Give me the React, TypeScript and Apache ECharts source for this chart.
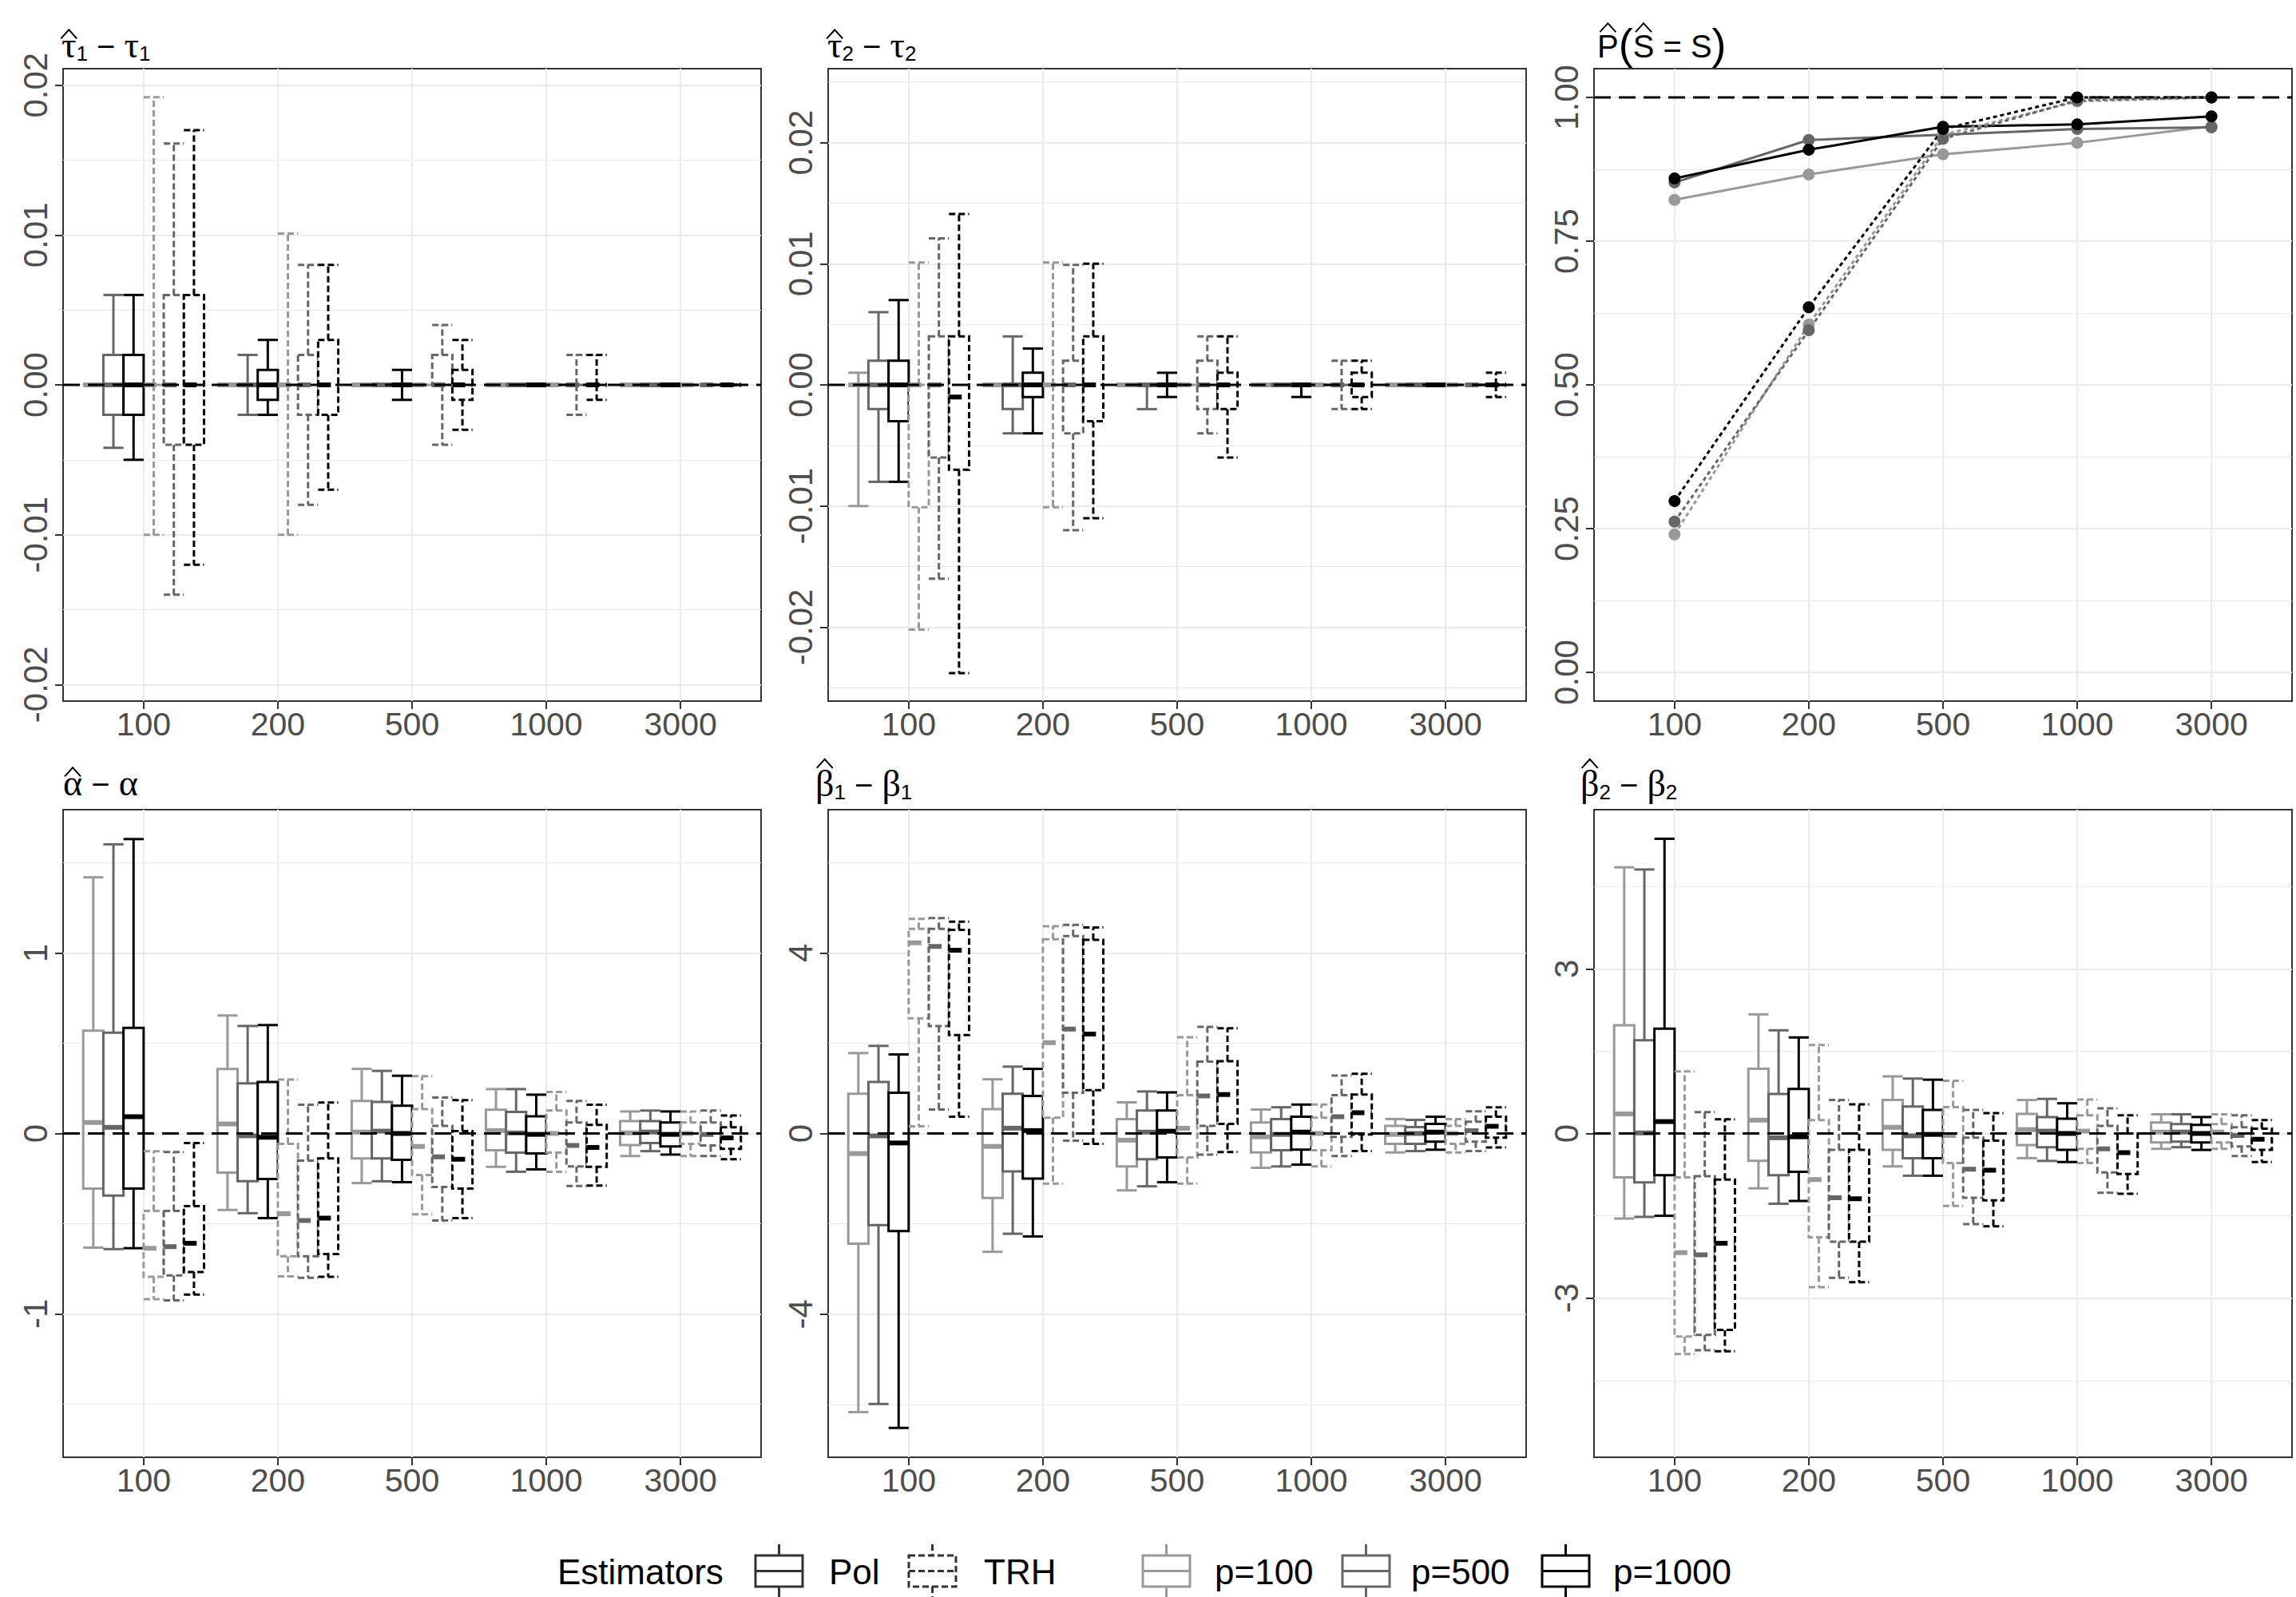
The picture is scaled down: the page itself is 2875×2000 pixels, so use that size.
import React, { useEffect, useRef } from 'react';
import * as echarts from 'echarts';

// Sample sizes shown along every x axis
const SAMPLE_SIZES = ['100', '200', '500', '1000', '3000'];
// Dimension settings and their grey levels
const DIMENSIONS = ['p=100', 'p=500', 'p=1000'];
const DIM_COLORS = ['#999999', '#666666', '#000000'];
const ESTIMATORS = ['Pol', 'TRH'];

// Box statistics per sample size: [lower whisker, Q1, median, Q3, upper whisker]
const TAU1_POL_P100 = [[0, 0, 0, 0, 0], [0, 0, 0, 0, 0], [0, 0, 0, 0, 0], [0, 0, 0, 0, 0], [0, 0, 0, 0, 0]];
const TAU1_POL_P500 = [[-0.0042, -0.002, 0, 0.002, 0.006], [-0.002, 0, 0, 0, 0.002], [0, 0, 0, 0, 0], [0, 0, 0, 0, 0], [0, 0, 0, 0, 0]];
const TAU1_POL_P1000 = [[-0.005, -0.002, 0, 0.002, 0.006], [-0.002, -0.001, 0, 0.001, 0.003], [-0.001, 0, 0, 0, 0.001], [0, 0, 0, 0, 0], [0, 0, 0, 0, 0]];
const TAU1_TRH_P100 = [[-0.01, 0, 0, 0, 0.0192], [-0.01, 0, 0, 0, 0.0101], [0, 0, 0, 0, 0], [0, 0, 0, 0, 0], [0, 0, 0, 0, 0]];
const TAU1_TRH_P500 = [[-0.014, -0.004, 0, 0.006, 0.0161], [-0.008, -0.002, 0, 0.002, 0.008], [-0.004, 0, 0, 0.002, 0.004], [-0.002, 0, 0, 0, 0.002], [0, 0, 0, 0, 0]];
const TAU1_TRH_P1000 = [[-0.012, -0.004, 0, 0.006, 0.017], [-0.007, -0.002, 0, 0.003, 0.008], [-0.003, -0.001, 0, 0.001, 0.003], [-0.001, 0, 0, 0, 0.002], [0, 0, 0, 0, 0]];

const TAU2_POL_P100 = [[-0.01, 0, 0, 0, 0.001], [0, 0, 0, 0, 0], [0, 0, 0, 0, 0], [0, 0, 0, 0, 0], [0, 0, 0, 0, 0]];
const TAU2_POL_P500 = [[-0.008, -0.002, 0, 0.002, 0.006], [-0.004, -0.002, 0, 0, 0.004], [-0.002, 0, 0, 0, 0], [0, 0, 0, 0, 0], [0, 0, 0, 0, 0]];
const TAU2_POL_P1000 = [[-0.008, -0.003, 0, 0.002, 0.007], [-0.004, -0.001, 0, 0.001, 0.003], [-0.001, 0, 0, 0, 0.001], [-0.001, 0, 0, 0, 0], [0, 0, 0, 0, 0]];
const TAU2_TRH_P100 = [[-0.0202, -0.0101, 0, 0, 0.0101], [-0.0101, 0, 0, 0, 0.0101], [0, 0, 0, 0, 0], [0, 0, 0, 0, 0], [0, 0, 0, 0, 0]];
const TAU2_TRH_P500 = [[-0.016, -0.006, 0, 0.004, 0.0121], [-0.012, -0.004, 0, 0.002, 0.0099], [-0.004, -0.002, 0, 0.002, 0.004], [-0.002, 0, 0, 0, 0.002], [0, 0, 0, 0, 0]];
const TAU2_TRH_P1000 = [[-0.0238, -0.007, -0.001, 0.004, 0.0141], [-0.011, -0.003, 0, 0.004, 0.01], [-0.006, -0.002, 0, 0.001, 0.004], [-0.002, -0.001, 0, 0.001, 0.002], [-0.001, 0, 0, 0, 0.001]];

const ALPHA_POL_P100 = [[-0.633, -0.305, 0.061, 0.57, 1.42], [-0.424, -0.217, 0.053, 0.358, 0.654], [-0.275, -0.138, 0.008, 0.18, 0.358], [-0.185, -0.093, 0.016, 0.132, 0.246], [-0.125, -0.064, 0.003, 0.069, 0.122]];
const ALPHA_POL_P500 = [[-0.641, -0.344, 0.034, 0.559, 1.603], [-0.442, -0.265, -0.013, 0.278, 0.596], [-0.265, -0.138, 0.013, 0.175, 0.347], [-0.212, -0.106, 0.003, 0.119, 0.246], [-0.098, -0.053, 0.008, 0.069, 0.127]];
const ALPHA_POL_P1000 = [[-0.636, -0.305, 0.093, 0.585, 1.632], [-0.469, -0.252, -0.021, 0.286, 0.601], [-0.27, -0.146, 0, 0.154, 0.32], [-0.199, -0.111, -0.005, 0.095, 0.215], [-0.117, -0.072, -0.005, 0.061, 0.122]];
const ALPHA_TRH_P100 = [[-0.919, -0.795, -0.636, -0.429, -0.098], [-0.792, -0.681, -0.445, -0.058, 0.299], [-0.448, -0.23, -0.072, 0.135, 0.318], [-0.212, -0.106, 0, 0.127, 0.23], [-0.125, -0.058, 0, 0.061, 0.122]];
const ALPHA_TRH_P500 = [[-0.925, -0.787, -0.628, -0.429, -0.103], [-0.8, -0.681, -0.482, -0.151, 0.159], [-0.482, -0.297, -0.13, 0.042, 0.199], [-0.291, -0.183, -0.066, 0.061, 0.18], [-0.125, -0.066, -0.005, 0.061, 0.127]];
const ALPHA_TRH_P1000 = [[-0.893, -0.768, -0.609, -0.403, -0.053], [-0.795, -0.668, -0.469, -0.138, 0.172], [-0.469, -0.305, -0.143, 0.013, 0.185], [-0.289, -0.185, -0.077, 0.048, 0.159], [-0.143, -0.085, -0.024, 0.034, 0.1]];

const BETA1_POL_P100 = [[-6.17, -2.44, -0.445, 0.88, 1.78], [-2.62, -1.43, -0.286, 0.54, 1.2], [-1.26, -0.73, -0.148, 0.32, 0.69], [-0.76, -0.42, -0.074, 0.244, 0.53], [-0.42, -0.23, -0.02, 0.17, 0.32]];
const BETA1_POL_P500 = [[-5.99, -2.03, -0.053, 1.14, 1.94], [-2.22, -0.84, 0.117, 0.88, 1.48], [-1.17, -0.57, 0.03, 0.51, 0.93], [-0.73, -0.37, -0.02, 0.32, 0.58], [-0.39, -0.23, 0, 0.14, 0.3]];
const BETA1_POL_P1000 = [[-6.52, -2.16, -0.21, 0.9, 1.75], [-2.28, -1.0, 0.064, 0.83, 1.43], [-1.08, -0.53, 0.05, 0.51, 0.91], [-0.69, -0.36, 0.03, 0.37, 0.64], [-0.36, -0.18, 0.03, 0.21, 0.37]];
const BETA1_TRH_P100 = [[0.159, 2.55, 4.22, 4.53, 4.75], [-1.11, 0.35, 2.01, 4.3, 4.59], [-1.11, -0.53, 0.117, 0.85, 2.13], [-0.73, -0.37, 0, 0.35, 0.64], [-0.42, -0.23, 0, 0.17, 0.32]];
const BETA1_TRH_P500 = [[0.53, 2.38, 4.14, 4.53, 4.77], [-0.16, 0.9, 2.31, 4.37, 4.62], [-0.47, 0.17, 0.83, 1.59, 2.36], [-0.5, -0.074, 0.37, 0.85, 1.28], [-0.39, -0.18, 0.064, 0.26, 0.49]];
const BETA1_TRH_P1000 = [[0.37, 2.18, 4.06, 4.51, 4.69], [-0.23, 0.96, 2.2, 4.29, 4.56], [-0.41, 0.21, 0.86, 1.6, 2.33], [-0.39, -0.02, 0.46, 0.86, 1.32], [-0.31, -0.095, 0.16, 0.37, 0.58]];

const BETA2_POL_P100 = [[-1.55, -0.8, 0.357, 1.97, 4.85], [-1.0, -0.5, 0.243, 1.18, 2.17], [-0.6, -0.3, 0.113, 0.61, 1.04], [-0.45, -0.21, 0.07, 0.357, 0.61], [-0.28, -0.165, 0.026, 0.2, 0.35]];
const BETA2_POL_P500 = [[-1.52, -0.89, 0.01, 1.7, 4.81], [-1.28, -0.76, -0.078, 0.72, 1.88], [-0.77, -0.45, -0.043, 0.49, 1.0], [-0.5, -0.25, 0.043, 0.3, 0.63], [-0.25, -0.148, 0.026, 0.17, 0.35]];
const BETA2_POL_P1000 = [[-1.5, -0.76, 0.217, 1.91, 5.37], [-1.23, -0.7, -0.06, 0.81, 1.75], [-0.77, -0.45, -0.017, 0.43, 0.98], [-0.52, -0.3, 0, 0.27, 0.55], [-0.3, -0.165, 0, 0.157, 0.3]];
const BETA2_TRH_P100 = [[-4.02, -3.7, -2.17, -0.8, 1.13], [-2.8, -1.89, -0.84, 0.243, 1.61], [-1.32, -0.54, -0.035, 0.48, 0.96], [-0.54, -0.28, 0.043, 0.33, 0.62], [-0.28, -0.165, 0.026, 0.17, 0.35]];
const BETA2_TRH_P500 = [[-3.95, -3.67, -2.21, -0.78, 0.39], [-2.63, -1.97, -1.17, -0.3, 0.61], [-1.65, -1.17, -0.65, -0.078, 0.43], [-1.08, -0.71, -0.28, 0.14, 0.46], [-0.41, -0.235, -0.035, 0.113, 0.33]];
const BETA2_TRH_P1000 = [[-3.97, -3.58, -2.0, -0.84, 0.26], [-2.71, -1.97, -1.19, -0.3, 0.53], [-1.69, -1.22, -0.67, -0.13, 0.37], [-1.1, -0.74, -0.35, 0, 0.33], [-0.52, -0.3, -0.104, 0.087, 0.243]];

// Estimated probability of recovering the true segmentation
const PROB_POL_P100 = [0.822, 0.866, 0.901, 0.921, 0.95];
const PROB_POL_P500 = [0.852, 0.926, 0.935, 0.945, 0.948];
const PROB_POL_P1000 = [0.859, 0.909, 0.949, 0.953, 0.967];
const PROB_TRH_P100 = [0.24, 0.605, 0.935, 0.993, 1.0];
const PROB_TRH_P500 = [0.262, 0.595, 0.928, 0.995, 1.0];
const PROB_TRH_P1000 = [0.298, 0.635, 0.945, 1.0, 1.0];

// Y scales per panel (panels ordered row by row)
const Y_SCALES = [
  { min: -0.0211, max: 0.0211, step: 0.01, ticks: [-0.02, -0.01, 0, 0.01, 0.02], digits: 2, ref: 0 },
  { min: -0.0261, max: 0.0261, step: 0.01, ticks: [-0.02, -0.01, 0, 0.01, 0.02], digits: 2, ref: 0 },
  { min: -0.05, max: 1.05, step: 0.25, ticks: [0, 0.25, 0.5, 0.75, 1], digits: 2, ref: 1 },
  { min: -1.795, max: 1.795, step: 1, ticks: [-1, 0, 1], digits: 0, ref: 0 },
  { min: -7.17, max: 7.17, step: 4, ticks: [-4, 0, 4], digits: 0, ref: 0 },
  { min: -5.9, max: 5.9, step: 3, ticks: [-3, 0, 3], digits: 0, ref: 0 },
];

const BOX_PANELS: { cell: number; groups: number[][][] }[] = [
  { cell: 0, groups: [TAU1_POL_P100, TAU1_POL_P500, TAU1_POL_P1000, TAU1_TRH_P100, TAU1_TRH_P500, TAU1_TRH_P1000] },
  { cell: 1, groups: [TAU2_POL_P100, TAU2_POL_P500, TAU2_POL_P1000, TAU2_TRH_P100, TAU2_TRH_P500, TAU2_TRH_P1000] },
  { cell: 3, groups: [ALPHA_POL_P100, ALPHA_POL_P500, ALPHA_POL_P1000, ALPHA_TRH_P100, ALPHA_TRH_P500, ALPHA_TRH_P1000] },
  { cell: 4, groups: [BETA1_POL_P100, BETA1_POL_P500, BETA1_POL_P1000, BETA1_TRH_P100, BETA1_TRH_P500, BETA1_TRH_P1000] },
  { cell: 5, groups: [BETA2_POL_P100, BETA2_POL_P500, BETA2_POL_P1000, BETA2_TRH_P100, BETA2_TRH_P500, BETA2_TRH_P1000] },
];
const PROB_GROUPS = [PROB_POL_P100, PROB_POL_P500, PROB_POL_P1000, PROB_TRH_P100, PROB_TRH_P500, PROB_TRH_P1000];

const FONT = 'Liberation Sans';
const SERIF = 'Liberation Serif';
const X_MIN = 0.4;
const X_MAX = 5.6;
const X_TICKS = SAMPLE_SIZES.map((_, i) => i + 1);
const BOX_WIDTH = 0.15;
const BOX_OFFSETS = [-0.375, -0.225, -0.075, 0.075, 0.225, 0.375];
const PANEL_LEFTS = [79, 1037, 1996];
const ROW_TOPS = [86, 1014];
const ROW_HEIGHTS = [792, 811];
const PANEL_WIDTH = 874;
const LINE_W = 3;
const TRH_DASH = [8, 4];
const AXIS_TEXT = '#4D4D4D';
const GRID_LINE = '#EBEBEB';
const BORDER = '#333333';

function boxSeries(cell: number, groupIdx: number, stats: number[][]) {
  const est = Math.floor(groupIdx / 3);
  const dim = groupIdx % 3;
  const color = DIM_COLORS[dim];
  const dash = est === 1 ? TRH_DASH : null;
  const medDash = est === 1 ? TRH_DASH.map((d) => d * 2) : null;
  const offset = BOX_OFFSETS[groupIdx];
  return {
    type: 'custom',
    name: `${ESTIMATORS[est]} ${DIMENSIONS[dim]}`,
    xAxisIndex: cell,
    yAxisIndex: cell,
    z: 2,
    silent: true,
    clip: false,
    dimensions: ['n', 'lo', 'q1', 'med', 'q3', 'hi'],
    encode: { x: 'n', y: ['lo', 'q1', 'med', 'q3', 'hi'] },
    data: stats.map((s, i) => [i + 1, ...s]),
    renderItem: (_params: any, api: any) => {
      const xc = (api.value(0) as number) + offset;
      const pLo = api.coord([xc, api.value(1)]);
      const pQ1 = api.coord([xc, api.value(2)]);
      const pMed = api.coord([xc, api.value(3)]);
      const pQ3 = api.coord([xc, api.value(4)]);
      const pHi = api.coord([xc, api.value(5)]);
      const w = api.size([BOX_WIDTH, 0], [xc, 0])[0];
      const cx = pMed[0];
      const x0 = cx - w / 2;
      const x1 = cx + w / 2;
      const st = { stroke: color, lineWidth: LINE_W, lineDash: dash, fill: null };
      const seg = (a: number, b: number, c: number, d: number, style: any = st) => ({
        type: 'line',
        shape: { x1: a, y1: b, x2: c, y2: d },
        style,
      });
      return {
        type: 'group',
        children: [
          seg(cx, pQ3[1], cx, pHi[1]),
          seg(cx, pQ1[1], cx, pLo[1]),
          seg(x0, pHi[1], x1, pHi[1]),
          seg(x0, pLo[1], x1, pLo[1]),
          {
            type: 'rect',
            shape: { x: x0, y: pQ3[1], width: w, height: pQ1[1] - pQ3[1] },
            style: { stroke: color, lineWidth: LINE_W, lineDash: dash, fill: '#ffffff' },
          },
          seg(x0, pMed[1], x1, pMed[1], { stroke: color, lineWidth: LINE_W * 2, lineDash: medDash }),
        ],
      };
    },
  };
}

let measureCtx: CanvasRenderingContext2D | null = null;
function textWidth(text: string, size: number, family: string) {
  if (!measureCtx) measureCtx = document.createElement('canvas').getContext('2d');
  measureCtx!.font = `${size}px "${family}"`;
  return measureCtx!.measureText(text).width;
}

type Piece = { t: string; size: number; family: string; dy?: number; hat?: number };

// Lays out a math-style title: pieces side by side on one baseline, hats drawn as carets
function titleGraphics(x0: number, baseline: number, pieces: Piece[]) {
  const els: any[] = [];
  let x = x0;
  pieces.forEach((p) => {
    const w = textWidth(p.t, p.size, p.family);
    const base = baseline + (p.dy || 0);
    els.push({
      type: 'text',
      x,
      y: base - 0.34 * p.size,
      silent: true,
      style: { text: p.t, fontSize: p.size, fontFamily: p.family, fill: '#000000', align: 'left', verticalAlign: 'middle' },
    });
    if (p.hat !== undefined) {
      const cx = x + w / 2;
      const bottom = base - p.hat * p.size - 3;
      els.push({
        type: 'polyline',
        silent: true,
        shape: { points: [[cx - 10, bottom], [cx, bottom - 11], [cx + 10, bottom]] },
        style: { stroke: '#000000', lineWidth: 2, fill: null },
      });
    }
    x += w;
  });
  return els;
}

function legendKey(x: number, color: string, dash: number[] | null) {
  const w = 59;
  const cx = x + w / 2;
  const st = { stroke: color, lineWidth: LINE_W, lineDash: dash, fill: null };
  return [
    { type: 'line', silent: true, shape: { x1: cx, y1: 1934, x2: cx, y2: 1948 }, style: st },
    { type: 'rect', silent: true, shape: { x, y: 1948, width: w, height: 39 }, style: { ...st, fill: '#ffffff' } },
    { type: 'line', silent: true, shape: { x1: x, y1: 1967.5, x2: x + w, y2: 1967.5 }, style: st },
    { type: 'line', silent: true, shape: { x1: cx, y1: 1987, x2: cx, y2: 2000 }, style: st },
  ];
}

function legendText(x: number, text: string) {
  return {
    type: 'text',
    x,
    y: 1968,
    silent: true,
    style: { text, fontSize: 44, fontFamily: FONT, fill: '#000000', align: 'left', verticalAlign: 'middle' },
  };
}

function buildOption() {
  const grid: any[] = [];
  const xAxis: any[] = [];
  const yAxis: any[] = [];
  const series: any[] = [];

  Y_SCALES.forEach((ys, cell) => {
    const row = Math.floor(cell / 3);
    const col = cell % 3;
    grid.push({
      left: PANEL_LEFTS[col],
      top: ROW_TOPS[row],
      width: PANEL_WIDTH,
      height: ROW_HEIGHTS[row],
      show: true,
      borderColor: BORDER,
      borderWidth: 2,
      backgroundColor: '#ffffff',
    });
    xAxis.push({
      type: 'value',
      gridIndex: cell,
      position: 'bottom',
      min: X_MIN,
      max: X_MAX,
      minInterval: 1,
      maxInterval: 1,
      axisLine: { show: false, onZero: false },
      axisTick: { show: true, length: 10, lineStyle: { color: BORDER, width: 2 }, customValues: X_TICKS },
      axisLabel: {
        customValues: X_TICKS,
        formatter: (v: number) => SAMPLE_SIZES[Math.round(v) - 1] ?? '',
        fontSize: 41,
        color: AXIS_TEXT,
        fontFamily: FONT,
        margin: 8,
      },
      splitLine: { show: true, lineStyle: { color: GRID_LINE, width: 2 } },
    });
    yAxis.push({
      type: 'value',
      gridIndex: cell,
      position: 'left',
      min: ys.min,
      max: ys.max,
      minInterval: ys.step,
      maxInterval: ys.step,
      axisLine: { show: false, onZero: false },
      axisTick: { show: true, length: 10, lineStyle: { color: BORDER, width: 2 }, customValues: ys.ticks },
      axisLabel: {
        customValues: ys.ticks,
        rotate: 90,
        formatter: (v: number) => v.toFixed(ys.digits),
        fontSize: 42,
        color: AXIS_TEXT,
        fontFamily: FONT,
        margin: 14,
      },
      splitLine: { show: true, lineStyle: { color: GRID_LINE, width: 2 } },
      minorTick: { show: false, splitNumber: 2 },
      minorSplitLine: { show: true, lineStyle: { color: GRID_LINE, width: 1 } },
    });
  });

  // Reference line in the probability panel sits beneath the curves
  series.push({
    type: 'line',
    xAxisIndex: 2,
    yAxisIndex: 2,
    data: [[X_MIN, Y_SCALES[2].ref], [X_MAX, Y_SCALES[2].ref]],
    symbol: 'none',
    silent: true,
    z: 1,
    lineStyle: { color: '#000000', width: 3, type: [21, 10] },
  });
  PROB_GROUPS.forEach((vals, g) => {
    const est = Math.floor(g / 3);
    const dim = g % 3;
    series.push({
      type: 'line',
      name: `${ESTIMATORS[est]} ${DIMENSIONS[dim]}`,
      xAxisIndex: 2,
      yAxisIndex: 2,
      data: vals.map((v, i) => [i + 1, v]),
      symbol: 'circle',
      symbolSize: 15,
      showSymbol: true,
      silent: true,
      z: 3,
      itemStyle: { color: DIM_COLORS[dim] },
      lineStyle: { color: DIM_COLORS[dim], width: 3, type: est === 1 ? [5, 4] : 'solid' },
    });
  });

  BOX_PANELS.forEach((panel) => {
    panel.groups.forEach((stats, g) => series.push(boxSeries(panel.cell, g, stats)));
    const ref = Y_SCALES[panel.cell].ref;
    series.push({
      type: 'line',
      xAxisIndex: panel.cell,
      yAxisIndex: panel.cell,
      data: [[X_MIN, ref], [X_MAX, ref]],
      symbol: 'none',
      silent: true,
      z: 4,
      lineStyle: { color: '#000000', width: 3, type: [21, 10] },
    });
  });

  const sub = (t: string): Piece => ({ t, size: 26, family: FONT, dy: 4 });
  const minus: Piece = { t: ' \u2212 ', size: 40, family: FONT };
  const graphics: any[] = [
    ...titleGraphics(77, 72, [{ t: '\u03c4', size: 46, family: SERIF, hat: 0.45 }, sub('1'), minus, { t: '\u03c4', size: 46, family: SERIF }, sub('1')]),
    ...titleGraphics(1036, 72, [{ t: '\u03c4', size: 46, family: SERIF, hat: 0.45 }, sub('2'), minus, { t: '\u03c4', size: 46, family: SERIF }, sub('2')]),
    ...titleGraphics(2000, 72, [
      { t: 'P', size: 40, family: FONT, hat: 0.72 },
      { t: '(', size: 54, family: FONT, dy: 1 },
      { t: 'S', size: 40, family: FONT, hat: 0.72 },
      { t: ' = ', size: 40, family: FONT },
      { t: 'S', size: 40, family: FONT },
      { t: ')', size: 54, family: FONT, dy: 1 },
    ]),
    ...titleGraphics(79, 996, [{ t: '\u03b1', size: 46, family: SERIF, hat: 0.45 }, minus, { t: '\u03b1', size: 46, family: SERIF }]),
    ...titleGraphics(1021, 997, [{ t: '\u03b2', size: 46, family: SERIF, hat: 0.7 }, sub('1'), minus, { t: '\u03b2', size: 46, family: SERIF }, sub('1')]),
    ...titleGraphics(1979, 997, [{ t: '\u03b2', size: 46, family: SERIF, hat: 0.7 }, sub('2'), minus, { t: '\u03b2', size: 46, family: SERIF }, sub('2')]),
    legendText(698, 'Estimators'),
    ...legendKey(946, BORDER, null),
    legendText(1038, ESTIMATORS[0]),
    ...legendKey(1138, BORDER, TRH_DASH),
    legendText(1232, ESTIMATORS[1]),
    ...legendKey(1431, DIM_COLORS[0], null),
    legendText(1521, DIMENSIONS[0]),
    ...legendKey(1681, DIM_COLORS[1], null),
    legendText(1767, DIMENSIONS[1]),
    ...legendKey(1931, DIM_COLORS[2], null),
    legendText(2020, DIMENSIONS[2]),
  ];

  return {
    animation: false,
    backgroundColor: '#ffffff',
    textStyle: { fontFamily: FONT },
    grid,
    xAxis,
    yAxis,
    series,
    graphic: { elements: graphics },
  };
}

export default function App() {
  const ref = useRef<HTMLDivElement>(null);
  useEffect(() => {
    if (!ref.current) return;
    const chart = echarts.init(ref.current, null, { renderer: 'svg' });
    chart.setOption(buildOption() as any);
    return () => {
      chart.dispose();
    };
  }, []);
  return (
    <div
      ref={ref}
      style={{ position: 'fixed', left: 0, top: 0, width: 2875, height: 2000, background: '#ffffff' }}
    />
  );
}
